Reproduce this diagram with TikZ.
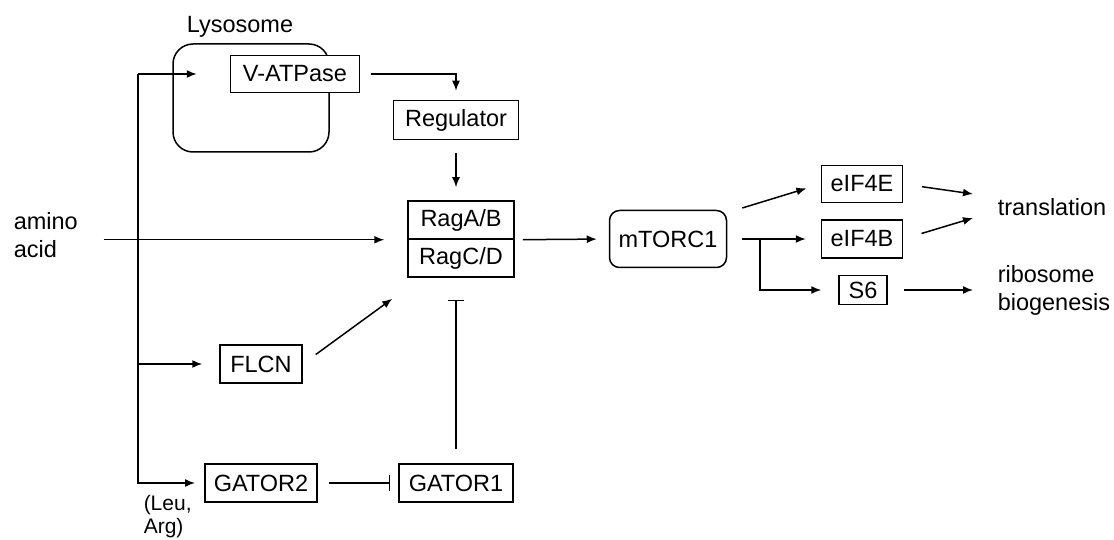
\documentclass[tikz,border=0pt]{standalone}
\usepackage{fontspec}
\setmainfont{Liberation Sans}
\usetikzlibrary{arrows.meta, shapes}

\tikzset{
  box/.style={draw, fill=white, minimum height=38, inner xsep=9, inner ysep=2},
  lbl/.style={inner sep=0, align=left},
  act/.style={-{Latex[length=10,width=8]}},
  inh/.style={-{Bar[width=16]}},
}

\begin{document}
\begin{tikzpicture}[x=1pt, y=1pt, line width=1.5pt, font=\fontsize{23.5}{28}\selectfont]
  \useasboundingbox (0,0) rectangle (1114,-540);

  % Nodes
  \node[draw, rounded corners=20, minimum width=156, minimum height=108] (lyso) at (251,-98) {};
  \node[lbl] (lysolab) at (240,-27) {Lysosome};
  \node[box, minimum width=129, minimum height=37] (vatp) at (295,-74) {V-ATPase};
  \node[box, minimum width=125, minimum height=39] (reg) at (456,-120) {Regulator};
  \node[box, minimum width=106] (raga) at (461,-220) {RagA/B};
  \node[box, minimum width=106] (ragc) at (461,-258) {RagC/D};
  \node[box, minimum width=117, minimum height=57, rounded corners=10] (mtor) at (668,-239) {mTORC1};
  \node[box, minimum width=81, minimum height=37] (eif4e) at (862,-184) {eIF4E};
  \node[box, minimum width=81] (eif4b) at (862,-239) {eIF4B};
  \node[box, minimum width=48, minimum height=29] (s6) at (863,-290) {S6};
  \node[box, minimum width=82] (flcn) at (261,-364) {FLCN};
  \node[box, minimum width=112] (gator2) at (261,-483) {GATOR2};
  \node[box, minimum width=114] (gator1) at (456,-483) {GATOR1};

  \node[lbl, anchor=west] (amino) at (13,-235) {amino\\acid};
  \node[lbl, anchor=west, font=\fontsize{21}{23}\selectfont] (leuarg) at (143,-517) {(Leu,\\Arg)};
  \node[lbl, anchor=west] (trans) at (997,-207) {translation};
  \node[lbl, anchor=west] (ribo) at (997,-290) {ribosome\\biogenesis};

  \coordinate (top) at (138,-74);
  \coordinate (bot) at (138,-483);
  \coordinate (br) at (760,-239);

  % Edges
  \draw[act, shorten >=33] (top) -- (vatp.west |- top);
  \draw[act, shorten >=17] (top |- flcn) -- (flcn.west);
  \draw[act, shorten >=9] (top) -- (bot) -- (gator2.west);
  \draw[act, shorten <=25, shorten >=23] (amino.east |- raga.south) -- (raga.south west);

  \draw[act, shorten <=11, shorten >=9] (vatp.east) -| (reg.north);
  \draw[act, shorten <=13, shorten >=13] (reg.south) -- (reg.south |- raga.north);
  \draw[act, shorten <=16] (flcn.east) -- ([xshift=-15, yshift=-21]ragc.south west);
  \draw[inh, shorten <=11, shorten >=8] (gator2.east) -- (gator1.west);
  \draw[inh, shorten <=14, shorten >=22] (gator1.north) -- (gator1.north |- ragc.south);

  \draw[act, shorten <=8, shorten >=12] (raga.south east) -- (mtor.west);
  \draw[act, shorten >=15] ([xshift=15, yshift=31]mtor.east) -- (eif4e.west);
  \draw[act, shorten <=15, shorten >=15] (mtor.east) -- (eif4b.west);
  \draw[act, shorten >=17] (br) |- (s6.west);

  \draw[act, shorten <=19] (eif4e.east) -- ([xshift=-24, yshift=13]trans.west);
  \draw[act, shorten <=19] (eif4b.east) -- ([xshift=-24, yshift=-11]trans.west);
  \draw[act, shorten <=16, shorten >=24] (s6.east) -- (s6.east -| ribo.west);

\end{tikzpicture}
\end{document}
